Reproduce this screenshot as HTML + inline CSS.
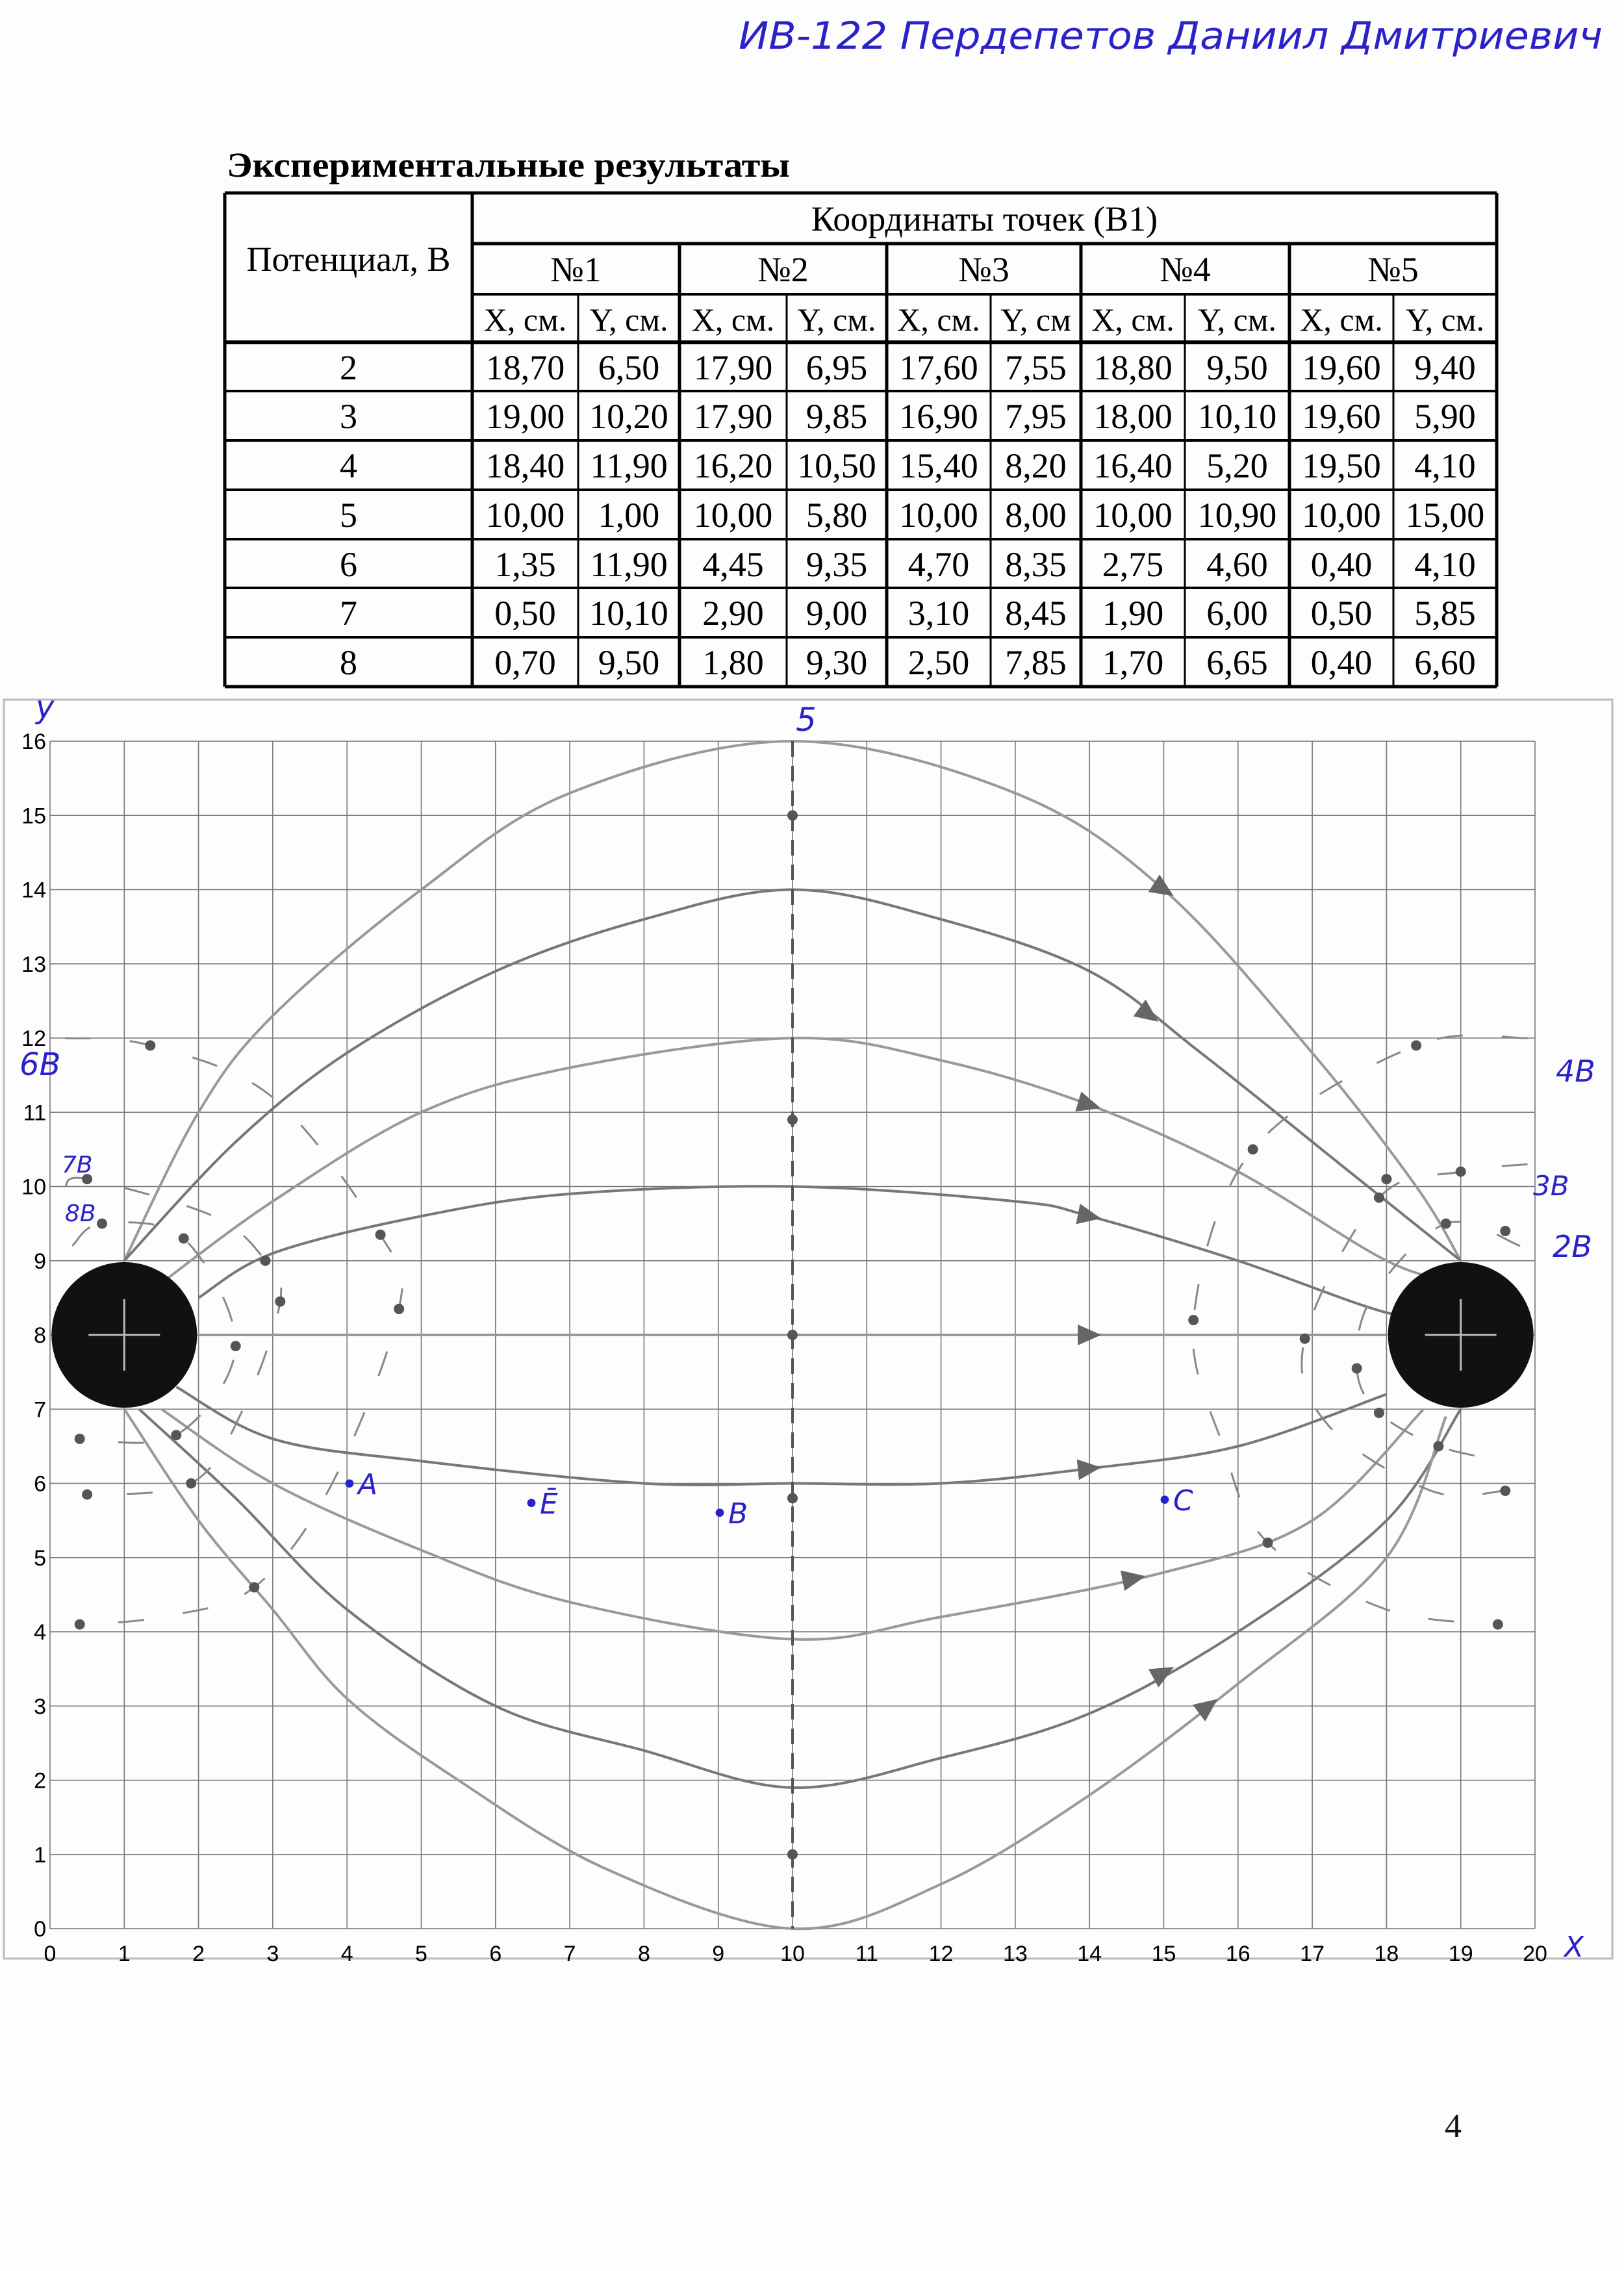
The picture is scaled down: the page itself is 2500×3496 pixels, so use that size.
<!DOCTYPE html>
<html><head><meta charset="utf-8"><style>
html,body{margin:0;padding:0;background:#fff}
svg{display:block}
.hw{font-family:"DejaVu Sans",sans-serif;fill:#2a22c8;font-style:italic}
</style></head><body>
<svg id="page" width="2500" height="3496" viewBox="0 0 2500 3496" xmlns="http://www.w3.org/2000/svg">
<rect width="2500" height="3496" fill="#fdfdfd"/>
<text class="hw" x="1137" y="75" font-size="58" textLength="1330" lengthAdjust="spacingAndGlyphs">ИВ-122  Пердепетов  Даниил  Дмитриевич</text>
<text x="349" y="272" font-family="Liberation Serif,serif" font-weight="bold" font-size="54" textLength="867" lengthAdjust="spacingAndGlyphs" fill="#000">Экспериментальные результаты</text>
<g id="table"></g>
<rect x="6" y="1077" width="2476" height="1938" fill="none" stroke="#bbb" stroke-width="3"/>
<g id="chart"></g>
<text x="2237" y="3290" font-family="Liberation Serif,serif" font-size="52" fill="#111" text-anchor="middle">4</text>
</svg>
<script>
const NS='http://www.w3.org/2000/svg';
// ---- table data ----
const potentials=['2','3','4','5','6','7','8'];
const tableRows=[
['18,70','6,50','17,90','6,95','17,60','7,55','18,80','9,50','19,60','9,40'],
['19,00','10,20','17,90','9,85','16,90','7,95','18,00','10,10','19,60','5,90'],
['18,40','11,90','16,20','10,50','15,40','8,20','16,40','5,20','19,50','4,10'],
['10,00','1,00','10,00','5,80','10,00','8,00','10,00','10,90','10,00','15,00'],
['1,35','11,90','4,45','9,35','4,70','8,35','2,75','4,60','0,40','4,10'],
['0,50','10,10','2,90','9,00','3,10','8,45','1,90','6,00','0,50','5,85'],
['0,70','9,50','1,80','9,30','2,50','7,85','1,70','6,65','0,40','6,60']];
const colHeads=['X, см.','Y, см.','X, см.','Y, см.','X, см.','Y, см','X, см.','Y, см.','X, см.','Y, см.'];
const groupHeads=['№1','№2','№3','№4','№5'];
const colX=[346,727,890,1046,1211,1365,1525,1664,1824,1985,2145,2304];
const rowY=[297,375,453,527,602,678,754,830,905,981,1057];
function mk(tag,attrs,parent){const e=document.createElementNS(NS,tag);for(const k in attrs)e.setAttribute(k,attrs[k]);parent.appendChild(e);return e;}
const T=document.getElementById('table');
function line(x1,y1,x2,y2,w,name){const l=mk('line',{x1,y1,x2,y2,stroke:'#000','stroke-width':w},T);

}
function txt(s,x,y,name,parent,size){const t=mk('text',{x,y,'text-anchor':'middle','font-family':'Liberation Serif,serif','font-size':size||54,fill:'#000'},parent||T);t.textContent=s;

return t;}
line(colX[0],rowY[0],colX[11],rowY[0],5,'table-border');
line(colX[0],rowY[10],colX[11],rowY[10],5,'table-border');
line(colX[0],rowY[0],colX[0],rowY[10],5,'table-border');
line(colX[11],rowY[0],colX[11],rowY[10],5,'table-border');
line(colX[1],rowY[0],colX[1],rowY[10],5,'table-col-line');
line(colX[1],rowY[1],colX[11],rowY[1],5,'table-row-line');
line(colX[1],rowY[2],colX[11],rowY[2],4,'table-row-line');
for(let r=3;r<10;r++)line(colX[0],rowY[r],colX[11],rowY[r],r==3?6:4,'table-row-line');
for(let c=2;c<11;c++){const top=(c%2==1)?rowY[1]:rowY[2];line(colX[c],top,colX[c],rowY[10],c%2==1?5:3,'table-col-line');}
txt('Потенциал, В',(colX[0]+colX[1])/2,rowY[1]+42,'potential-header');
txt('Координаты точек (В1)',(colX[1]+colX[11])/2,rowY[0]+58,'coordinates-header');
groupHeads.forEach((g,i)=>txt(g,(colX[1+2*i]+colX[3+2*i])/2,rowY[1]+58,'point-group-header'));
colHeads.forEach((h,i)=>txt(h,(colX[1+i]+colX[2+i])/2,rowY[2]+56,'coord-column-header',T,50));
potentials.forEach((p,r)=>{const y=rowY[3+r]+57;txt(p,(colX[0]+colX[1])/2,y,'potential-value');
tableRows[r].forEach((v,c)=>txt(v,(colX[1+c]+colX[2+c])/2,y,'coord-value'));});

// ---- chart ----
const C=document.getElementById('chart');
const xTicks=[0,1,2,3,4,5,6,7,8,9,10,11,12,13,14,15,16,17,18,19,20];
const yTicks=[0,1,2,3,4,5,6,7,8,9,10,11,12,13,14,15,16];
const X=v=>77+v*114.3, Y=v=>2969-v*114.25;
xTicks.forEach(v=>{const l=mk('line',{x1:X(v),y1:Y(0),x2:X(v),y2:Y(16),stroke:'#777','stroke-width':1.6},C);


const t=txt(String(v),X(v),Y(0)+50,'x-tick-label',C,34);t.setAttribute('font-family','Liberation Sans,sans-serif');});
yTicks.forEach(v=>{const l=mk('line',{x1:X(0),y1:Y(v),x2:X(20),y2:Y(v),stroke:'#777','stroke-width':1.6},C);


const t=txt(String(v),X(0)-6,Y(v)+12,'y-tick-label',C,34);t.setAttribute('text-anchor','end');t.setAttribute('font-family','Liberation Sans,sans-serif');});
const fieldLines=[
[[1,9],[2,11],[3,12.3],[5,14],[7,15.3],[10,16],[13,15.3],[15,14],[17,11.8],[18.4,10],[19,9]],
[[1,9],[2.5,10.6],[4,11.8],[6,12.9],[8,13.6],[10,14],[12,13.6],[14,12.9],[15.5,11.8],[17.5,10.2],[19,9]],
[[1.5,8.7],[3,9.8],[5,11],[7,11.6],[10,12],[12,11.7],[14,11.1],[16,10.2],[18,9],[19,8.7]],
[[2,8.5],[3,9.1],[5,9.6],[7,9.9],[10,10],[13,9.8],[14,9.6],[16,9],[18,8.3],[19,8.2]],
[[2,8],[6,8],[10,8],[14,8],[18,8]],
[[1.7,7.3],[3,6.6],[5,6.3],[8,6],[10,6],[12,6],[14,6.2],[16,6.5],[18,7.2]],
[[1.5,7],[3,6],[5,5.1],[7,4.4],[10,3.9],[12,4.2],[15,4.8],[17,5.5],[18.5,7]],
[[1.2,7],[2.5,5.8],[4,4.3],[6,3],[8,2.4],[10,1.9],[12,2.3],[14,2.9],[16,4],[18,5.5],[19,7]],
[[1,7],[2,5.5],[3,4.3],[4,3.1],[5.5,2],[7.5,0.8],[10,0],[12,0.6],[14,1.8],[16,3.3],[18,5],[18.8,6.9]]];
const arrowAt=[15,14.8,14,14,14,14,14.6,15,15.6];
function smooth(pts){let d='M'+X(pts[0][0])+','+Y(pts[0][1]);
for(let i=0;i<pts.length-1;i++){const p0=pts[Math.max(0,i-1)],p1=pts[i],p2=pts[i+1],p3=pts[Math.min(pts.length-1,i+2)];
const c1=[X(p1[0])+(X(p2[0])-X(p0[0]))/6,Y(p1[1])+(Y(p2[1])-Y(p0[1]))/6];
const c2=[X(p2[0])-(X(p3[0])-X(p1[0]))/6,Y(p2[1])-(Y(p3[1])-Y(p1[1]))/6];
d+=' C'+c1+' '+c2+' '+X(p2[0])+','+Y(p2[1]);}return d;}
fieldLines.forEach((pts,i)=>{const p=mk('path',{d:smooth(pts),fill:'none',stroke:i%2?'#777':'#999','stroke-width':4},C);


const ax=arrowAt[i];let k=0;while(k<pts.length-2&&pts[k+1][0]<ax)k++;
const a=pts[k],b=pts[k+1];const tt=(ax-a[0])/(b[0]-a[0]);const ay=a[1]+(b[1]-a[1])*tt;
const ang=Math.atan2(Y(b[1])-Y(a[1]),X(b[0])-X(a[0]))*180/Math.PI;
const tri=mk('polygon',{points:'18,0 -18,-16 -18,16',fill:'#666',transform:`translate(${X(ax)},${Y(ay)}) rotate(${ang})`},C);

});
const eqCurves=[[[0.2,12],[1.35,11.9],[3,11.2],[4.45,9.35],[4.7,8.35],[3.8,6],[2.75,4.6],[1.5,4.2],[0.4,4.1]],
[[0.2,10],[0.5,10.1],[2.2,9.6],[2.9,9],[3.1,8.45],[2.6,7],[1.9,6],[0.5,5.85]],
[[0.3,9.2],[0.7,9.5],[1.8,9.3],[2.5,7.85],[1.7,6.65],[0.4,6.6]],
[[19.9,12],[18.4,11.9],[16.2,10.5],[15.4,8.2],[15.8,6.5],[16.4,5.2],[18,4.3],[19.5,4.1]],
[[19.9,10.3],[19,10.2],[17.9,9.85],[16.9,7.95],[17.2,6.8],[18.6,5.9],[19.6,5.9]],
[[19.8,9.2],[18.8,9.5],[17.8,8.5],[17.6,7.55],[17.9,6.95],[18.7,6.5],[19.6,6.3]]];
eqCurves.forEach(pts=>{const p=mk('path',{d:smooth(pts),fill:'none',stroke:'#888','stroke-width':3,'stroke-dasharray':'40 60'},C);

});
const v5=mk('line',{x1:X(10),y1:Y(16),x2:X(10),y2:Y(0),stroke:'#555','stroke-width':4,'stroke-dasharray':'24 14'},C);


tableRows.forEach(r=>{for(let c=0;c<10;c+=2){const x=parseFloat(r[c].replace(',','.')),y=parseFloat(r[c+1].replace(',','.'));
const d=mk('circle',{cx:X(x),cy:Y(y),r:8,fill:'#555'},C);

}});
[[1,8],[19,8]].forEach(([ex,ey])=>{const c=mk('circle',{cx:X(ex),cy:Y(ey),r:112,fill:'#111'},C);


const h=mk('path',{d:`M${X(ex)-55},${Y(ey)} h110 M${X(ex)},${Y(ey)-55} v110`,stroke:'#bbb','stroke-width':3},C);

});
const hwLabels=[['y',55,1105,48],['5',1225,1125,50],['X',2408,3012,44],['6В',30,1655,48],['7В',95,1805,36],['8В',100,1880,36],['4В',2395,1665,46],['3В',2360,1840,42],['2В',2390,1935,46],['•A',525,2300,44],['•Ē',805,2330,44],['•В',1095,2345,44],['•C',1780,2325,44]];
hwLabels.forEach(([s,x,y,f])=>{const t=mk('text',{x,y,'font-size':f,class:'hw'},C);t.textContent=s;

});
</script>
</body></html>
